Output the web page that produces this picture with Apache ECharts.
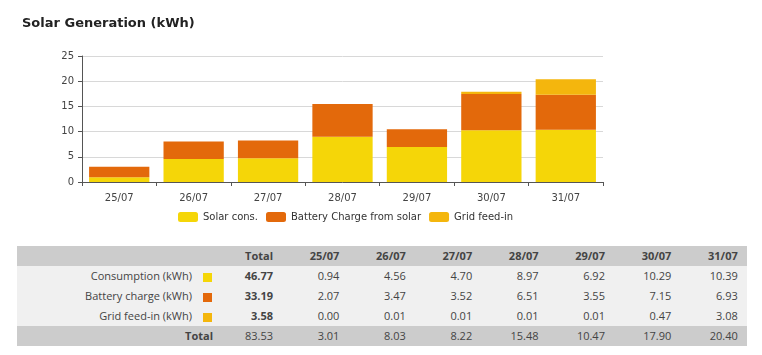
<!DOCTYPE html>
<html>
<head>
<meta charset="utf-8">
<script src="https://cdn.jsdelivr.net/npm/echarts@6/dist/echarts.min.js"></script>
<style>
  html, body { margin: 0; padding: 0; background: #fff; }
  #chart { position: absolute; left: 0; top: 0; width: 762px; height: 240px; }
  #tbl { position: absolute; left: 17px; top: 246px; border-collapse: collapse; table-layout: fixed;
         font-family: "Open Sans", sans-serif; font-size: 11px; color: #444; }
  #tbl td, #tbl th { height: 20px; padding: 0 9px 0 0; text-align: right; white-space: nowrap; line-height: 20px; }
  #tbl thead tr, #tbl tr.tot { background: #cccccc; }
  #tbl tbody tr.body { background: #f0f0f0; }
  #tbl th { font-weight: bold; }
  .sw { display: inline-block; width: 9px; height: 9px; vertical-align: middle; }
  td.lab { padding-right: 5px !important; }
  td.swc { text-align: left !important; padding: 0 0 0 6px !important; }
</style>
</head>
<body>
<div id="chart"></div>
<table id="tbl"></table>
<script>
const categories = ['25/07', '26/07', '27/07', '28/07', '29/07', '30/07', '31/07'];
const solarCons = [0.94, 4.56, 4.70, 8.97, 6.92, 10.29, 10.39];
const batteryCharge = [2.07, 3.47, 3.52, 6.51, 3.55, 7.15, 6.93];
const gridFeedIn = [0.00, 0.01, 0.01, 0.01, 0.01, 0.47, 3.08];
const seriesNames = ['Solar cons.', 'Battery Charge from solar', 'Grid feed-in'];
const rowLabels = ['Consumption (kWh)', 'Battery charge (kWh)', 'Grid feed-in (kWh)'];
const rowTotals = ['46.77', '33.19', '3.58'];
const columnTotals = ['3.01', '8.03', '8.22', '15.48', '10.47', '17.90', '20.40'];
const grandTotal = '83.53';
const colors = ['#f5d608', '#e3690b', '#f4b60d'];

const chart = echarts.init(document.getElementById('chart'), null, { renderer: 'canvas' });
const font = 'DejaVu Sans';
const mk = (name, data, c) => ({ name, type: 'bar', stack: 'a', data, itemStyle: { color: c }, barCategoryGap: '19%' });
chart.setOption({
  animation: false,
  textStyle: { fontFamily: font },
  title: { text: 'Solar Generation (kWh)', left: 17, top: 12,
           textStyle: { fontFamily: font, fontSize: 13, fontWeight: 'bold', color: '#222' } },
  grid: { left: 82, right: 159, top: 56, height: 126 },
  legend: { left: 173, top: 207, itemWidth: 20, itemHeight: 10, itemGap: 8, icon: 'roundRect',
            textStyle: { fontFamily: font, fontSize: 10, color: '#333' }, data: seriesNames },
  xAxis: { type: 'category', data: categories,
           axisLine: { lineStyle: { color: '#555' } },
           axisTick: { show: true, length: 4, lineStyle: { color: '#555' } },
           axisLabel: { fontFamily: font, fontSize: 10, color: '#444', margin: 11 } },
  yAxis: { type: 'value', min: 0, max: 25, interval: 5,
           axisLine: { show: true, lineStyle: { color: '#555' } },
           axisTick: { show: true, length: 4, lineStyle: { color: '#555' } },
           axisLabel: { fontFamily: font, fontSize: 10, color: '#444', margin: 8 },
           splitLine: { lineStyle: { color: '#d8d8d8' } } },
  series: [mk(seriesNames[0], solarCons, colors[0]), mk(seriesNames[1], batteryCharge, colors[1]), mk(seriesNames[2], gridFeedIn, colors[2])]
});

// Table
const tbl = document.getElementById('tbl');
const widths = [180, 25, 60].concat(categories.map(() => 66.4));
let html = '<colgroup>' + widths.map(w => `<col style="width:${w}px">`).join('') + '</colgroup>';
html += '<thead><tr><th></th><th></th><th>Total</th>' + categories.map(c => `<th>${c}</th>`).join('') + '</tr></thead><tbody>';
const rows = [solarCons, batteryCharge, gridFeedIn];
rows.forEach((r, i) => {
  html += `<tr class="body"><td class="lab">${rowLabels[i]}</td><td class="swc"><span class="sw" style="background:${colors[i]}"></span></td><td><b>${rowTotals[i]}</b></td>` +
          r.map(v => `<td>${v.toFixed(2)}</td>`).join('') + '</tr>';
});
html += `<tr class="tot"><td colspan="2" style="padding-right:9px"><b>Total</b></td><td>${grandTotal}</td>` + columnTotals.map(v => `<td>${v}</td>`).join('') + '</tr></tbody>';
tbl.innerHTML = html;
</script>
</body>
</html>
